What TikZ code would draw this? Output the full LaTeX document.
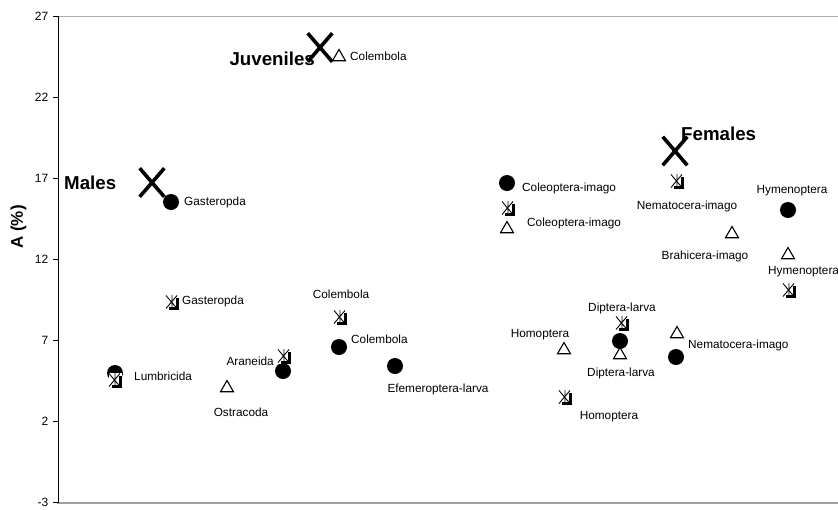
\documentclass[tikz,border=0pt]{standalone}
\usepackage{fontspec}
\setmainfont{Liberation Sans}
\usetikzlibrary{shapes.geometric,shapes.misc}
\begin{document}
\begin{tikzpicture}[x=1pt,y=-1pt,
  lab/.style={font=\fontsize{11.8}{13}\selectfont, inner sep=0pt},
  biglab/.style={font=\bfseries\fontsize{18.7}{21}\selectfont, inner sep=0pt},
  ticklab/.style={font=\fontsize{12}{14}\selectfont, inner sep=0pt, anchor=east},
  axlab/.style={font=\bfseries\fontsize{17}{20}\selectfont, inner sep=0pt, rotate=90},
  dot/.style={circle, fill=black, inner sep=0pt, minimum size=16pt},
  tri/.style={regular polygon, regular polygon sides=3, draw=black, fill=white, line width=1.1pt, inner sep=0pt, minimum size=15pt},
  bigx/.style={cross out, draw=black, line width=3.6pt, inner sep=0pt, minimum width=21pt, minimum height=25pt},
  astmark/.pic={
    \fill[white] (-6,-7) rectangle (6.5,7.5);
    \draw[line width=0.9pt] (-6,-6.5) -- (5,6.5) (-6,6.5) -- (5,-6.5) (0,-7) -- (0,6.5);
    \draw[line width=2.6pt] (5.5,-4) -- (5.5,6.5) -- (-3.5,6.5);
  }]
\useasboundingbox (0,0) rectangle (838,509);
\fill[white] (0,0) rectangle (838,509);
% axes
\draw[gray!65, line width=1pt] (58,16) -- (838,16);
\draw[gray!75, line width=2pt] (57,503) -- (838,503);
\draw[black, line width=0.9pt] (58,16) -- (58,503);
\foreach \v [count=\i] in {-3,2,7,12,17,22,27}{
  \draw[line width=0.8pt] (53,{502.7-(\v+3)*16.22}) -- (58,{502.7-(\v+3)*16.22});
  \node[ticklab] (tick\i) at (48.5,{502.7-(\v+3)*16.22}) {\v};
}
\node[axlab] (ylab) at (18.5,227) {A (\%)};

% group labels
\node[biglab, anchor=west] (males) at (64,183) {Males};
\node[biglab, anchor=east] (juv) at (315,59) {Juveniles};
\node[biglab, anchor=west] (fem) at (681,134) {Females};

% circles
\node[dot] (cGas) at (171,202) {};
\node[dot] (cLum) at (115,373) {};
\node[dot] (cAra) at (283,371) {};
\node[dot] (cCol) at (339,347) {};
\node[dot] (cEfe) at (395,366) {};
\node[dot] (cCoe) at (507,183) {};
\node[dot] (cDip) at (620,341) {};
\node[dot] (cNem) at (676,357) {};
\node[dot] (cHym) at (788,210) {};

% asterisk-square markers
\pic at (172,302) {astmark};
\pic at (115,380) {astmark};
\pic at (284,356) {astmark};
\pic at (340,317) {astmark};
\pic at (508,208) {astmark};
\pic at (565,397) {astmark};
\pic at (622,323) {astmark};
\pic at (677,181) {astmark};
\pic at (789,290) {astmark};

% triangles
\node[tri] (tCol) at (339,57) {};
\node[tri] (tOst) at (227,388) {};
\node[tri] (tCoe) at (507,229) {};
\node[tri] (tHom) at (564,350) {};
\node[tri] (tDip) at (620,355) {};
\node[tri] (tNem) at (677,334) {};
\node[tri] (tBra) at (732,234) {};
\node[tri] (tHym) at (788,255) {};

% big X markers
\node[bigx] (xMal) at (152,182.5) {};
\node[bigx] (xJuv) at (320,47.5) {};
\node[bigx] (xFem) at (675,151) {};

% labels
\node[lab, anchor=west] (lGas1) at (184,202) {Gasteropda};
\node[lab, anchor=west] (lGas2) at (182,301) {Gasteropda};
\node[lab, anchor=west] (lLum) at (134,376) {Lumbricida};
\node[lab] (lOst) at (241,412) {Ostracoda};
\node[lab, anchor=east] (lAra) at (274,361) {Araneida};
\node[lab] (lCol1) at (341,294) {Colembola};
\node[lab, anchor=west] (lCol2) at (351,339) {Colembola};
\node[lab] (lEfe) at (438,389) {Efemeroptera-larva};
\node[lab, anchor=west] (lColJ) at (350,56) {Colembola};
\node[lab, anchor=west] (lCoe1) at (522,188) {Coleoptera-imago};
\node[lab, anchor=west] (lCoe2) at (527,223) {Coleoptera-imago};
\node[lab] (lHom1) at (540,335) {Homoptera};
\node[lab] (lHom2) at (609,417) {Homoptera};
\node[lab] (lDip1) at (622,308) {Diptera-larva};
\node[lab] (lDip2) at (621,373) {Diptera-larva};
\node[lab, anchor=west] (lNem1) at (688,345) {Nematocera-imago};
\node[lab] (lNem2) at (687,206) {Nematocera-imago};
\node[lab] (lHym1) at (792,191) {Hymenoptera};
\node[lab] (lBra) at (705,256) {Brahicera-imago};
\node[lab, anchor=west] (lHym2) at (768,272) {Hymenoptera};
\end{tikzpicture}
\end{document}
